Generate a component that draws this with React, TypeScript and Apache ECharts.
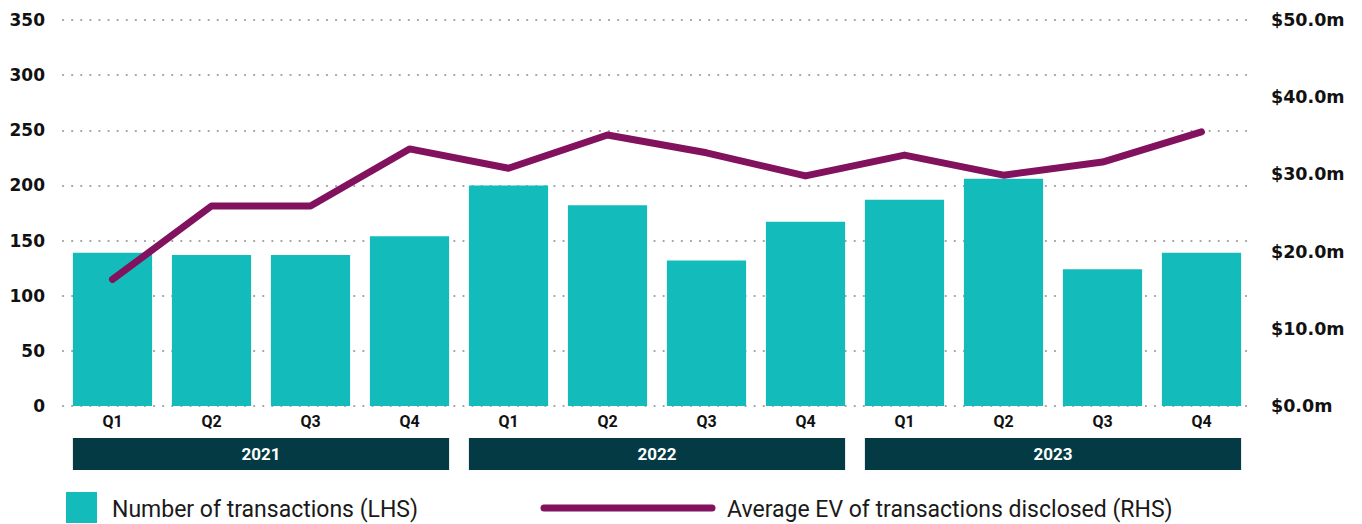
import React, { useEffect, useRef } from "react";
import * as echarts from "echarts";

const quarters = ["Q1", "Q2", "Q3", "Q4", "Q1", "Q2", "Q3", "Q4", "Q1", "Q2", "Q3", "Q4"];
const years = ["2021", "2022", "2023"];
const transactions = [139, 137, 137, 154, 200, 182, 132, 167, 187, 206, 124, 139];
const avgEV = [16.4, 25.9, 25.9, 33.3, 30.8, 35.1, 32.8, 29.8, 32.5, 29.9, 31.6, 35.5];
const leftTicks = { min: 0, max: 350, interval: 50 };
const rightTicks = { min: 0, max: 50, interval: 10 };
const seriesNames = ["Number of transactions (LHS)", "Average EV of transactions disclosed (RHS)"];

const BAR = "#14BBBB";
const LINE = "#82115E";
const BAND = "#033A43";

export default function App() {
  const ref = useRef<HTMLDivElement>(null);
  useEffect(() => {
    document.body.style.margin = "0";
    const chart = echarts.init(ref.current!, null, { renderer: "svg" });
    const axisFont = { fontFamily: "DejaVu Sans", fontWeight: "bold" as const, fontSize: 17, color: "#111" };
    chart.setOption({
      animation: false,
      grid: { left: 63, right: 111, top: 20, bottom: 118 },
      xAxis: {
        type: "category",
        data: quarters,
        axisLine: { show: false },
        axisTick: { show: false },
        axisLabel: { fontFamily: "Roboto", fontWeight: "bold", fontSize: 16, color: "#111", margin: 7 },
      },
      yAxis: [
        {
          type: "value",
          ...leftTicks,
          axisLine: { show: false },
          axisTick: { show: false },
          axisLabel: { ...axisFont, margin: 18 },
          splitLine: { lineStyle: { color: "#a0a0a0", width: 2.2, type: [0.1, 9], cap: "round" } },
        },
        {
          type: "value",
          ...rightTicks,
          position: "right",
          axisLine: { show: false },
          axisTick: { show: false },
          splitLine: { show: false },
          axisLabel: { ...axisFont, fontSize: 17.5, margin: 20, formatter: (v: number) => `$${v.toFixed(1)}m` },
        },
      ],
      series: [
        {
          name: seriesNames[0],
          type: "bar",
          data: transactions,
          itemStyle: { color: BAR },
          barCategoryGap: "20%",
          yAxisIndex: 0,
        },
        {
          name: seriesNames[1],
          type: "line",
          data: avgEV,
          yAxisIndex: 1,
          symbol: "none",
          lineStyle: { color: LINE, width: 7, cap: "round", join: "round" },
          z: 3,
        },
      ],
    });
    const px = (i: number) => chart.convertToPixel({ xAxisIndex: 0 }, i) as number;
    const step = px(1) - px(0);
    const half = step * 0.4;
    const graphics: any[] = [];
    years.forEach((y, k) => {
      const x0 = px(k * 4) - half;
      const x1 = px(k * 4 + 3) + half;
      graphics.push({
        type: "rect",
        shape: { x: x0, y: 438, width: x1 - x0, height: 32 },
        style: { fill: BAND },
      });
      graphics.push({
        type: "text",
        x: (x0 + x1) / 2,
        y: 454,
        style: {
          text: y,
          fill: "#fff",
          font: "bold 17px Roboto",
          align: "center",
          verticalAlign: "middle",
        },
      });
    });
    graphics.push({ type: "rect", shape: { x: 66, y: 492, width: 31, height: 31 }, style: { fill: BAR } });
    graphics.push({
      type: "text",
      x: 112,
      y: 509,
      style: { text: seriesNames[0], fill: "#1a1a1a", font: "23px Roboto", verticalAlign: "middle" },
    });
    graphics.push({
      type: "line",
      shape: { x1: 544, y1: 508, x2: 712, y2: 508 },
      style: { stroke: LINE, lineWidth: 7, lineCap: "round" },
    });
    graphics.push({
      type: "text",
      x: 727,
      y: 509,
      style: { text: seriesNames[1], fill: "#1a1a1a", font: "23px Roboto", verticalAlign: "middle" },
    });
    chart.setOption({ graphic: graphics });
    return () => chart.dispose();
  }, []);
  return <div ref={ref} style={{ width: 1362, height: 524 }} />;
}
